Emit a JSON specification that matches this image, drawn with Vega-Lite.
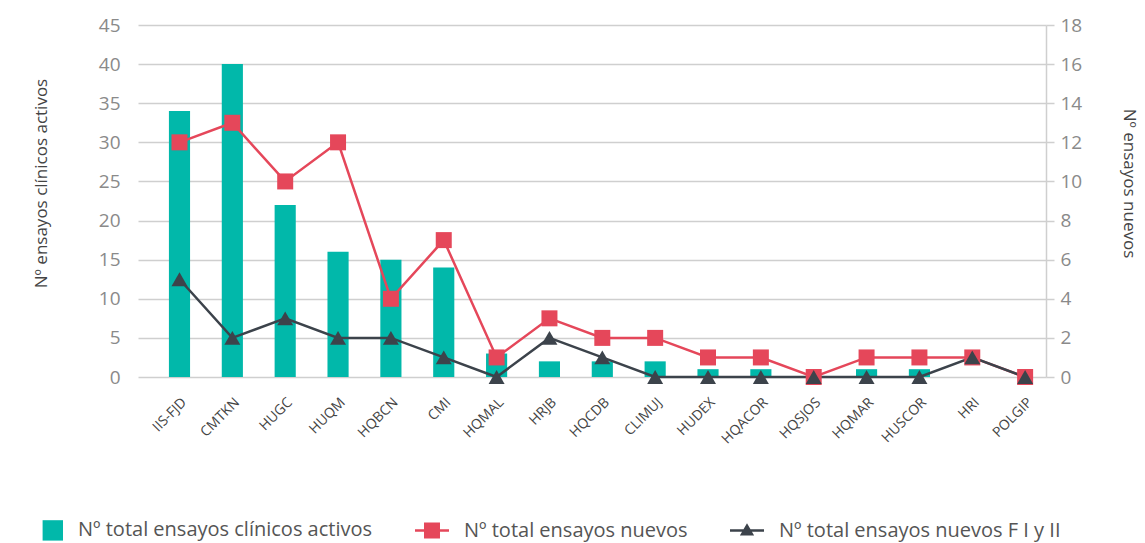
{
  "$schema": "https://vega.github.io/schema/vega-lite/v6.json",
  "width": 908,
  "height": 352,
  "autosize": {"type": "none"},
  "padding": {"left": 138, "top": 25, "right": 99, "bottom": 166},
  "config": {"view": {"stroke": null}, "font": "Open Sans"},
  "data": {
    "values": [
      {"centro": "IIS-FJD", "activos": 34, "nuevos": 12, "nuevosF": 5},
      {"centro": "CMTKN", "activos": 40, "nuevos": 13, "nuevosF": 2},
      {"centro": "HUGC", "activos": 22, "nuevos": 10, "nuevosF": 3},
      {"centro": "HUQM", "activos": 16, "nuevos": 12, "nuevosF": 2},
      {"centro": "HQBCN", "activos": 15, "nuevos": 4, "nuevosF": 2},
      {"centro": "CMI", "activos": 14, "nuevos": 7, "nuevosF": 1},
      {"centro": "HQMAL", "activos": 3, "nuevos": 1, "nuevosF": 0},
      {"centro": "HRJB", "activos": 2, "nuevos": 3, "nuevosF": 2},
      {"centro": "HQCDB", "activos": 2, "nuevos": 2, "nuevosF": 1},
      {"centro": "CLIMUJ", "activos": 2, "nuevos": 2, "nuevosF": 0},
      {"centro": "HUDEX", "activos": 1, "nuevos": 1, "nuevosF": 0},
      {"centro": "HQACOR", "activos": 1, "nuevos": 1, "nuevosF": 0},
      {"centro": "HQSJOS", "activos": 0, "nuevos": 0, "nuevosF": 0},
      {"centro": "HQMAR", "activos": 1, "nuevos": 1, "nuevosF": 0},
      {"centro": "HUSCOR", "activos": 1, "nuevos": 1, "nuevosF": 0},
      {"centro": "HRI", "activos": 0, "nuevos": 1, "nuevosF": 1},
      {"centro": "POLGIP", "activos": 0, "nuevos": 0, "nuevosF": 0}
    ]
  },
  "layer": [
    {
      "mark": {"type": "bar"},
      "encoding": {
        "x": {
          "field": "centro", "type": "nominal", "sort": null,
          "scale": {"paddingInner": 0.6, "paddingOuter": 0.39, "align": 0.75},
          "axis": {"title": null, "labelAngle": -45, "labelFontSize": 14, "labelColor": "#444", "domain": false, "ticks": false, "labelPadding": 18, "grid": false}
        },
        "y": {
          "field": "activos", "type": "quantitative",
          "scale": {"domain": [0, 45], "nice": false},
          "axis": {
            "orient": "left", "title": "Nº ensayos clínicos activos",
            "values": [0, 5, 10, 15, 20, 25, 30, 35, 40, 45],
            "domain": false, "ticks": false, "labelPadding": 18,
            "labelFontSize": 19, "labelColor": "#8a8a8a", "labelOverlap": false, "labelBound": false,
            "grid": true, "gridColor": "#cfcfcf", "gridWidth": 1.5,
            "titleFontSize": 17, "titleFontWeight": "normal", "titleColor": "#444",
            "titlePadding": 48, "titleY": 158
          }
        },
        "color": {
          "datum": "activos", "type": "nominal", "title": null,
          "scale": {"domain": ["activos", "nuevos", "nuevosF"], "range": ["#01b8aa", "#e5475a", "#3c434b"]},
          "legend": {
            "title": null, "orient": "none", "direction": "horizontal", "columns": 3,
            "legendX": -109, "legendY": 488, "padding": 0,
            "symbolSize": 1156, "symbolStrokeWidth": 0, "symbolOpacity": 1, "symbolType": "square",
            "labelFontSize": 20, "labelColor": "#555", "labelOffset": 15, "columnPadding": 42,
            "labelLimit": 400,
            "labelExpr": "datum.value === 'activos' ? 'Nº total ensayos clínicos activos' : datum.value === 'nuevos' ? 'Nº total ensayos nuevos' : 'Nº total ensayos nuevos F I y II'",
            "encode": {
              "symbols": {
                "update": {
                  "shape": {"signal": "datum.value === 'activos' ? 'M-0.2,-0.6H1V0.6H-0.2Z' : datum.value === 'nuevos' ? 'M-1,-0.07H1V0.07H-1Z M-0.47,-0.47H0.47V0.47H-0.47Z' : 'M-1,-0.07H1V0.07H-1Z M-0.42,0.3L0,-0.42L0.42,0.3Z'"},
                  "fill": {"scale": "color", "field": "value"},
                  "strokeWidth": {"value": 0},
                  "opacity": {"value": 1}
                }
              }
            }
          }
        }
      }
    },
    {
      "transform": [{"fold": ["nuevos", "nuevosF"], "as": ["serie", "valor"]}],
      "layer": [
        {
          "mark": {"type": "line", "strokeWidth": 2.5},
          "encoding": {
            "x": {"field": "centro", "type": "nominal", "sort": null},
            "y": {
              "field": "valor", "type": "quantitative",
              "scale": {"domain": [0, 18], "nice": false},
              "axis": {
                "orient": "right", "title": "Nº ensayos nuevos",
                "values": [0, 2, 4, 6, 8, 10, 12, 14, 16, 18],
                "labelOverlap": false, "labelBound": false,
                "grid": false, "domain": true, "domainColor": "#cfcfcf", "domainWidth": 1.5,
                "ticks": true, "tickColor": "#cfcfcf", "tickWidth": 1.5, "tickSize": 8,
                "labelPadding": 6, "labelFontSize": 19, "labelColor": "#8a8a8a",
                "titleFontSize": 17, "titleFontWeight": "normal", "titleColor": "#444",
                "titlePadding": 38, "titleY": 158
              }
            },
            "color": {"field": "serie", "type": "nominal", "title": null},
            "detail": {"field": "serie"}
          }
        },
        {
          "mark": {"type": "point", "filled": true, "opacity": 1},
          "encoding": {
            "x": {"field": "centro", "type": "nominal", "sort": null},
            "y": {
              "field": "valor", "type": "quantitative",
              "axis": {
                "orient": "right", "title": "Nº ensayos nuevos",
                "values": [0, 2, 4, 6, 8, 10, 12, 14, 16, 18],
                "labelOverlap": false, "labelBound": false,
                "grid": false, "domain": true, "domainColor": "#cfcfcf", "domainWidth": 1.5,
                "ticks": true, "tickColor": "#cfcfcf", "tickWidth": 1.5, "tickSize": 8,
                "labelPadding": 6, "labelFontSize": 19, "labelColor": "#8a8a8a",
                "titleFontSize": 17, "titleFontWeight": "normal", "titleColor": "#444",
                "titlePadding": 38, "titleY": 158
              }
            },
            "color": {"field": "serie", "type": "nominal", "title": null},
            "shape": {
              "field": "serie", "type": "nominal",
              "scale": {"domain": ["nuevos", "nuevosF"], "range": ["square", "triangle-up"]},
              "legend": null
            },
            "size": {"value": 256}
          }
        }
      ]
    }
  ],
  "resolve": {"scale": {"y": "independent"}}
}
